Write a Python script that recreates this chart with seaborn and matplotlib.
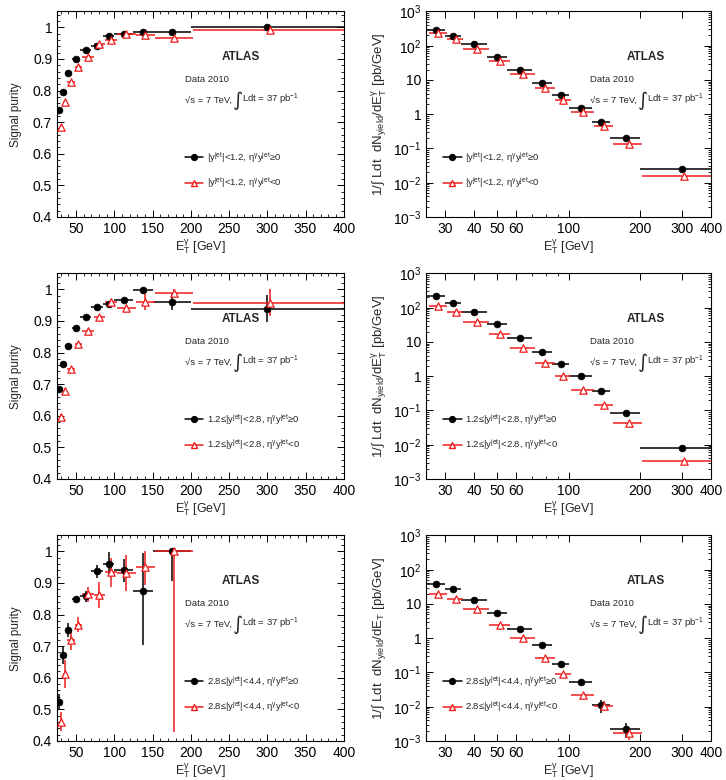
import numpy as np
import pandas as pd
import matplotlib
matplotlib.use("Agg")
import matplotlib.pyplot as plt
import seaborn as sns
from matplotlib.lines import Line2D
from matplotlib.ticker import FixedLocator, MultipleLocator, FixedFormatter, LogLocator, NullFormatter

# ---------------- data ----------------
bin_edges = [25, 30, 35, 45, 55, 70, 85, 100, 125, 150, 200, 400]

# signal purity, |y_jet|<1.2
pur1_pos = [0.737, 0.794, 0.856, 0.899, 0.929, 0.941, 0.972, 0.978, 0.985, 0.986, 1.000]
pur1_pos_err = [0.005, 0.004, 0.003, 0.003, 0.003, 0.004, 0.004, 0.004, 0.004, 0.005, 0.006]
pur1_neg = [0.685, 0.763, 0.827, 0.873, 0.906, 0.946, 0.960, 0.978, 0.977, 0.966, 0.990]
pur1_neg_err = [0.006, 0.005, 0.004, 0.004, 0.004, 0.004, 0.005, 0.005, 0.005, 0.006, 0.006]

# signal purity, 1.2<=|y_jet|<2.8
pur2_pos = [0.684, 0.763, 0.821, 0.876, 0.913, 0.943, 0.952, 0.966, 0.998, 0.961, 0.939]
pur2_pos_err = [0.005, 0.005, 0.004, 0.004, 0.004, 0.005, 0.006, 0.006, 0.004, 0.025, 0.043]
pur2_neg = [0.596, 0.679, 0.747, 0.826, 0.868, 0.913, 0.961, 0.940, 0.961, 0.988, 0.958]
pur2_neg_err = [0.008, 0.008, 0.007, 0.006, 0.005, 0.006, 0.008, 0.011, 0.025, 0.012, 0.043]

# signal purity, 2.8<=|y_jet|<4.4 (no last bin)
pur3_pos = [0.524, 0.672, 0.752, 0.848, 0.858, 0.937, 0.960, 0.940, 0.874, 1.000]
pur3_pos_elo = [0.024, 0.027, 0.022, 0.008, 0.017, 0.020, 0.038, 0.036, 0.170, 0.095]
pur3_pos_ehi = [0.024, 0.027, 0.022, 0.008, 0.017, 0.020, 0.038, 0.036, 0.120, 0.000]
pur3_neg = [0.461, 0.612, 0.720, 0.768, 0.864, 0.862, 0.934, 0.931, 0.950, 1.000]
pur3_neg_elo = [0.030, 0.045, 0.033, 0.023, 0.023, 0.042, 0.046, 0.058, 0.056, 0.570]
pur3_neg_ehi = [0.030, 0.045, 0.033, 0.023, 0.023, 0.042, 0.046, 0.058, 0.050, 0.000]

# yield spectra [pb/GeV]
yld1_pos = [280, 195, 110, 48, 19.8, 8.1, 3.7, 1.50, 0.61, 0.20, 0.0245]
yld1_neg = [228, 152, 82, 36, 15.0, 5.8, 2.65, 1.13, 0.44, 0.131, 0.0158]
yld2_pos = [215, 141, 75, 32.5, 13.3, 5.0, 2.25, 1.00, 0.36, 0.083, 0.0078]
yld2_neg = [115, 75, 39, 17, 6.5, 2.5, 1.05, 0.39, 0.14, 0.042, 0.0034]
yld3_pos = [39, 27, 13.4, 5.6, 1.8, 0.63, 0.177, 0.053, 0.0109, 0.00224]
yld3_neg = [19.6, 13.7, 7.0, 2.45, 1.03, 0.264, 0.093, 0.022, 0.0105, 0.0017]
yld3_pos_elo = [0.3, 0.5, 0.2, 0.08, 0.04, 0.02, 0.007, 0.003, 0.0042, 0.0010]
yld3_pos_ehi = [0.3, 0.5, 0.2, 0.08, 0.04, 0.02, 0.007, 0.003, 0.0045, 0.0011]
yld3_neg_elo = [0.3, 0.3, 0.15, 0.06, 0.03, 0.012, 0.005, 0.002, 0.0030, 0.0006]
yld3_neg_ehi = [0.3, 0.3, 0.15, 0.06, 0.03, 0.012, 0.005, 0.002, 0.0040, 0.0005]

region_labels_pos = ["|y$^{jet}$|<1.2, η$^{γ}$y$^{jet}$≥0",
                     "1.2≤|y$^{jet}$|<2.8, η$^{γ}$y$^{jet}$≥0",
                     "2.8≤|y$^{jet}$|<4.4, η$^{γ}$y$^{jet}$≥0"]
region_labels_neg = ["|y$^{jet}$|<1.2, η$^{γ}$y$^{jet}$<0",
                     "1.2≤|y$^{jet}$|<2.8, η$^{γ}$y$^{jet}$<0",
                     "2.8≤|y$^{jet}$|<4.4, η$^{γ}$y$^{jet}$<0"]

# ---------------- style ----------------
sns.set_theme(style="ticks")
plt.rcParams["font.family"] = ["Liberation Sans", "DejaVu Sans"]
plt.rcParams.update({
    "mathtext.fontset": "custom",
    "mathtext.rm": "Liberation Sans",
    "mathtext.it": "Liberation Sans:italic",
    "mathtext.bf": "Liberation Sans:bold",
    "mathtext.default": "regular",
    "axes.linewidth": 0.8,
    "axes.edgecolor": "black",
})

RED = "#f01c1c"
BLACK = "black"

fig = plt.figure(figsize=(7.26, 7.8), dpi=100)
bottoms = [0.7218, 0.3859, 0.0500]
H = 0.2635
axL = [fig.add_axes([0.0785, b, 0.395, H]) for b in bottoms]
axR = [fig.add_axes([0.587, b, 0.3926, H]) for b in bottoms]

edges = np.array(bin_edges, dtype=float)
lo_all, hi_all = edges[:-1], edges[1:]
cen_all = 0.5 * (lo_all + hi_all)


def draw_series(ax, y, elo, ehi, color, filled, log):
    n = len(y)
    lo, hi, xc = lo_all[:n], hi_all[:n], cen_all[:n]
    if not filled:
        if log:
            lo, hi, xc = lo * 1.025, hi * 1.025, xc * 1.025
        else:
            lo, hi, xc = lo + 3, hi + 3, xc + 3
    y = np.asarray(y, float)
    ax.errorbar(xc, y, xerr=[xc - lo, hi - xc], yerr=[np.asarray(elo), np.asarray(ehi)],
                fmt="none", ecolor=color, elinewidth=1.1, capsize=0, zorder=2)
    df = pd.DataFrame({"x": xc, "y": y})
    if filled:
        sns.scatterplot(data=df, x="x", y="y", ax=ax, marker="o", s=24, color=color,
                        edgecolor=color, linewidth=0.5, zorder=3, legend=False)
    else:
        sns.scatterplot(data=df, x="x", y="y", ax=ax, marker="^", s=28, color="white",
                        edgecolor=color, linewidth=0.9, zorder=3, legend=False)


def common_text(ax, xa, xt, xint):
    ax.text(xa, 0.78, "ATLAS", transform=ax.transAxes, fontsize=8.5, fontweight="bold",
            ha="center", va="center")
    ax.text(xt, 0.668, "Data 2010", transform=ax.transAxes, fontsize=6.8, ha="left", va="center")
    ax.text(xt, 0.57, "√s = 7 TeV,", transform=ax.transAxes,
            fontsize=6.8, ha="left", va="center")
    ax.text(xint, 0.565, "∫", transform=ax.transAxes, fontsize=14, ha="center", va="center",
            family=["DejaVu Sans"])
    ax.text(xint + 0.014, 0.57, "Ldt = 37 pb$^{-1}$", transform=ax.transAxes,
            fontsize=6.8, ha="left", va="center")


def legend(ax, i, x0):
    h = [Line2D([], [], color=BLACK, marker="o", markersize=4.2, lw=1.1),
         Line2D([], [], color=RED, marker="^", markersize=5, markerfacecolor="white",
                markeredgecolor=RED, lw=1.1)]
    ax.legend(h, [region_labels_pos[i], region_labels_neg[i]], loc="center left",
              bbox_to_anchor=(x0, 0.228), frameon=False, fontsize=6.8, handlelength=2.0,
              handletextpad=0.35, labelspacing=1.15, borderpad=0, borderaxespad=0)


def style_ticks(ax):
    ax.tick_params(which="both", direction="in", top=True, right=True, labelsize=10, colors="black")
    ax.tick_params(which="major", length=5, width=0.7, pad=3.5)
    ax.tick_params(which="minor", length=2.5, width=0.6)


purs = [(pur1_pos, pur1_pos_err, pur1_pos_err, pur1_neg, pur1_neg_err, pur1_neg_err),
        (pur2_pos, pur2_pos_err, pur2_pos_err, pur2_neg, pur2_neg_err, pur2_neg_err),
        (pur3_pos, pur3_pos_elo, pur3_pos_ehi, pur3_neg, pur3_neg_elo, pur3_neg_ehi)]

ylds = [(yld1_pos, np.array(yld1_pos) * 0.02, np.array(yld1_pos) * 0.02,
         yld1_neg, np.array(yld1_neg) * 0.02, np.array(yld1_neg) * 0.02),
        (yld2_pos, np.array(yld2_pos) * 0.02, np.array(yld2_pos) * 0.02,
         yld2_neg, np.array(yld2_neg) * 0.02, np.array(yld2_neg) * 0.02),
        (yld3_pos, yld3_pos_elo, yld3_pos_ehi, yld3_neg, yld3_neg_elo, yld3_neg_ehi)]

xlab = r"E$_{T}^{\gamma}$ [GeV]"
for i in range(3):
    ax = axL[i]
    p, pel, peh, n, nel, neh = purs[i]
    draw_series(ax, p, pel, peh, BLACK, True, False)
    draw_series(ax, n, nel, neh, RED, False, False)
    ax.set_xlim(25, 400)
    ax.set_ylim(0.4, 1.05)
    ax.xaxis.set_major_locator(FixedLocator([50, 100, 150, 200, 250, 300, 350, 400]))
    ax.xaxis.set_minor_locator(MultipleLocator(10))
    ax.yaxis.set_major_locator(FixedLocator([0.4, 0.5, 0.6, 0.7, 0.8, 0.9, 1.0]))
    ax.yaxis.set_major_formatter(FixedFormatter(["0.4", "0.5", "0.6", "0.7", "0.8", "0.9", "1"]))
    ax.yaxis.set_minor_locator(MultipleLocator(0.02))
    style_ticks(ax)
    ax.set_xlabel(xlab, fontsize=9, labelpad=1.5)
    ax.set_ylabel("Signal purity", fontsize=8.5, labelpad=8)
    common_text(ax, 0.64, 0.446, 0.630)
    legend(ax, i, 0.445)

    ax = axR[i]
    p, pel, peh, n, nel, neh = ylds[i]
    draw_series(ax, p, pel, peh, BLACK, True, True)
    draw_series(ax, n, nel, neh, RED, False, True)
    ax.set_xscale("log")
    ax.set_yscale("log")
    ax.set_xlim(25, 400)
    ax.set_ylim(1e-3, 1e3)
    ax.xaxis.set_major_locator(FixedLocator([30, 40, 50, 60, 100, 200, 300, 400]))
    ax.xaxis.set_major_formatter(FixedFormatter(["30", "40", "50", "60", "100", "200", "300", "400"]))
    ax.xaxis.set_minor_locator(FixedLocator([70, 80, 90]))
    ax.xaxis.set_minor_formatter(NullFormatter())
    ax.yaxis.set_major_locator(FixedLocator([1e-3, 1e-2, 1e-1, 1, 10, 1e2, 1e3]))
    ax.yaxis.set_major_formatter(FixedFormatter([r"$10^{-3}$", r"$10^{-2}$", r"$10^{-1}$", "1", "10",
                                                 r"$10^{2}$", r"$10^{3}$"]))
    ax.yaxis.set_minor_locator(LogLocator(base=10, subs=np.arange(2, 10), numticks=20))
    ax.yaxis.set_minor_formatter(NullFormatter())
    style_ticks(ax)
    ax.set_xlabel(xlab, fontsize=9, labelpad=1.5)
    if i < 2:
        yl = r"1/$\int$ Ldt  dN$_{yield}$/dE$_{T}^{\gamma}$ [pb/GeV]"
    else:
        yl = r"1/$\int$ Ldt  dN$_{yield}$/dE$_{T}$ [pb/GeV]"
    ax.set_ylabel(yl, fontsize=9.5, labelpad=3)
    common_text(ax, 0.77, 0.575, 0.760)
    legend(ax, i, 0.058)

fig.savefig("out.png", dpi=100)
